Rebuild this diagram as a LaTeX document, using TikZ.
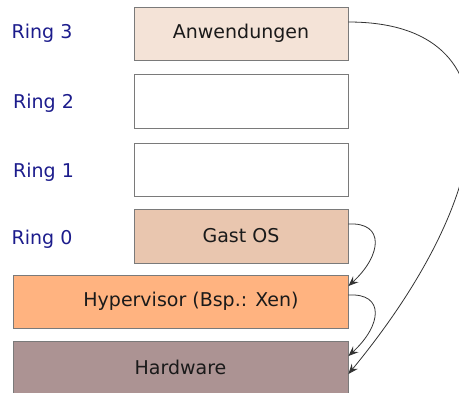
\documentclass[tikz,border=0pt]{standalone}
\usepackage{fontspec}
\setmainfont{DejaVu Sans}
\usetikzlibrary{arrows.meta}
\definecolor{ringblue}{HTML}{1C1C8C}
\definecolor{textdark}{HTML}{1A1A1A}
\definecolor{boxline}{HTML}{7A7A7A}
\definecolor{arrowline}{HTML}{333333}
\definecolor{appfill}{HTML}{F4E3D7}
\definecolor{guestfill}{HTML}{E9C6AF}
\definecolor{hypfill}{HTML}{FFB380}
\definecolor{hwfill}{HTML}{AC9393}
\begin{document}
\begin{tikzpicture}[x=1pt,y=-1pt,
  layer/.style={draw=boxline, line width=0.9pt, minimum height=53pt,
    inner sep=0pt, font=\fontsize{19}{23}\selectfont, text=textdark},
  ringlabel/.style={font=\fontsize{19}{23}\selectfont, text=ringblue, inner sep=0pt},
  call/.style={draw=arrowline, line width=0.8pt,
    -{Stealth[length=10pt,width=8pt,inset=3.5pt]}}]
\useasboundingbox (0,0) rectangle (459,392);
\clip (0,0) rectangle (459,392);

% privilege rings
\node[ringlabel] (l3) at (42,33) {Ring 3};
\node[ringlabel] (l2) at (43.5,103) {Ring 2};
\node[ringlabel] (l1) at (43.5,172) {Ring 1};
\node[ringlabel] (l0) at (42,239) {Ring 0};

% layers
\node[layer, fill=appfill, minimum width=214pt] (app) at (241,33.5) {Anwendungen};
\node[layer, fill=white, minimum width=214pt, minimum height=54pt] (r2) at (241,101) {};
\node[layer, fill=white, minimum width=214pt] (r1) at (241,169.5) {};
\node[layer, fill=guestfill, minimum width=214pt, minimum height=54pt] (guest) at (241,236) {Gast OS};
\node[layer, fill=hypfill, minimum width=335pt] (hyp) at (180.5,301.5) {\hspace*{21pt}Hypervisor (Bsp.: Xen)};
\node[layer, fill=hwfill, minimum width=335pt] (hw) at (180.5,367.5) {Hardware};

% calls down the stack
\draw[call] ([yshift=12pt]guest.east) .. controls (385,222) and (382,255) .. ([yshift=15.5pt]hyp.east);
\draw[call] ([yshift=6.5pt]hyp.east) .. controls (385,293) and (382,325) .. ([yshift=11.5pt]hw.east);
\draw[call] ([yshift=11.5pt]app.east) .. controls (520,22) and (500,190) .. ([yshift=-6.5pt]hw.east);
\end{tikzpicture}
\end{document}
